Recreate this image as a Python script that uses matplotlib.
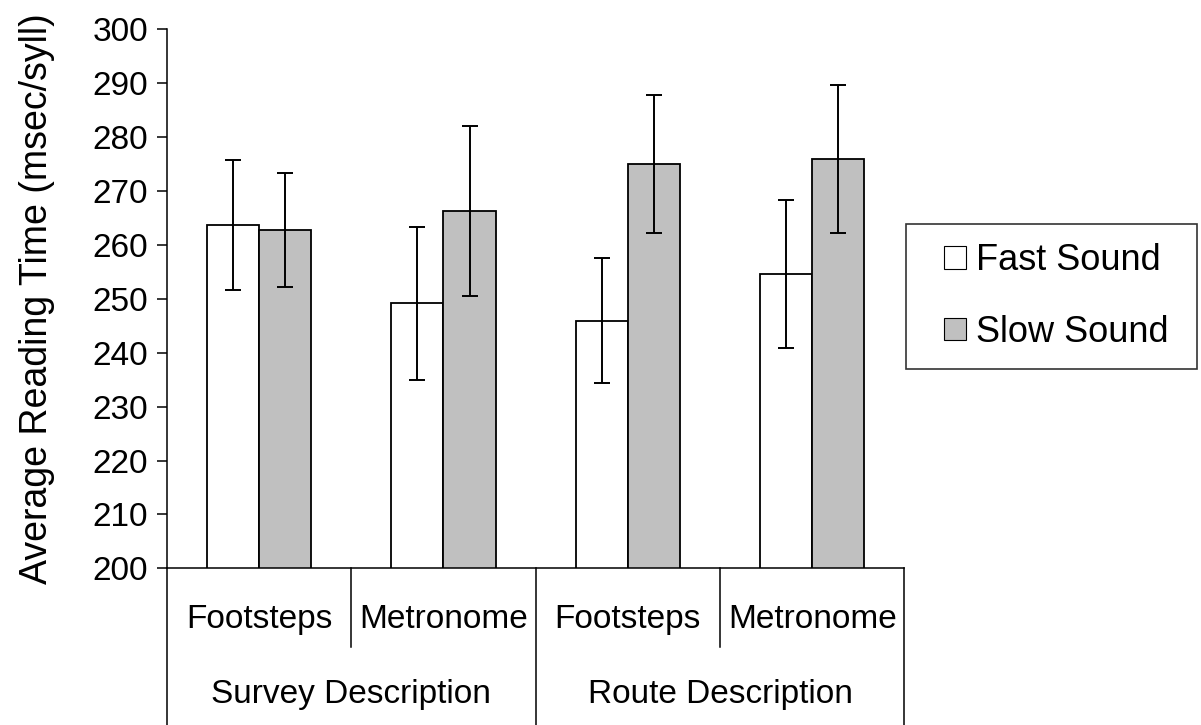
import numpy as np
import matplotlib
matplotlib.use("Agg")
import matplotlib.pyplot as plt
from matplotlib.patches import Patch, Rectangle
from matplotlib.legend_handler import HandlerPatch
import matplotlib.transforms as mtransforms

plt.rcParams.update({
    "font.family": ["Liberation Sans", "DejaVu Sans"],
    "font.size": 24,
})

# ---------------------------------------------------------------------------
# Data
# ---------------------------------------------------------------------------
sounds = ["Footsteps", "Metronome", "Footsteps", "Metronome"]
descriptions = ["Survey Description", "Route Description"]
fast_mean = [263.6, 249.1, 245.9, 254.6]
fast_err = [12.0, 14.1, 11.6, 13.7]
slow_mean = [262.7, 266.2, 274.9, 275.8]
slow_err = [10.5, 15.8, 12.8, 13.7]
series_names = ["Fast Sound", "Slow Sound"]
yticks = np.arange(200, 301, 10)

CLR_FAST = "white"
CLR_SLOW = "#C0C0C0"

fig = plt.figure(figsize=(12.01, 7.25), dpi=100)
ax = fig.add_axes([0.139, 0.2159, 0.614, 0.7445])

x = np.arange(len(sounds))
w = 0.283
err_kw = dict(ecolor="black", elinewidth=1.4, capsize=5.5, capthick=1.4)
ax.bar(x - w / 2, fast_mean, w, yerr=fast_err, color=CLR_FAST,
       edgecolor="black", linewidth=1.3, error_kw=err_kw, zorder=2)
ax.bar(x + w / 2, slow_mean, w, yerr=slow_err, color=CLR_SLOW,
       edgecolor="black", linewidth=1.3, error_kw=err_kw, zorder=2)

ax.set_xlim(-0.5, len(sounds) - 0.5)
ax.set_ylim(yticks[0], yticks[-1])
ax.set_yticks(yticks)
ax.tick_params(axis="y", direction="out", length=7.5, width=1.1, labelsize=24, pad=6)
ax.set_xticks([])
ax.spines["top"].set_visible(False)
ax.spines["right"].set_visible(False)
ax.spines["left"].set_linewidth(1.1)
ax.spines["bottom"].set_linewidth(1.1)
ax.set_ylabel("Average Reading Time (msec/syll)", fontsize=27, labelpad=27)

# multi-level category axis below the plot
trans = mtransforms.blended_transform_factory(ax.transData, ax.transAxes)
for b in np.arange(-0.5, len(sounds), 1.0):
    full = int(round(b + 0.5)) % 2 == 0
    ybot = -0.29 if full else -0.145
    ax.plot([b, b], [0, ybot], color="black", lw=1.1, transform=trans, clip_on=False)
for xi, lab in zip(x, sounds):
    ax.text(xi, -0.095, lab, transform=trans, ha="center", va="center", fontsize=24)
for gi, lab in enumerate(descriptions):
    ax.text(2 * gi + 0.5, -0.234, lab, transform=trans, ha="center", va="center", fontsize=24)


# small square legend keys, pushed to the right side of the handle area
def square_key(legend, orig_handle, xdescent, ydescent, width, height, fontsize):
    s = height
    return Rectangle((width - s - xdescent, -ydescent), s, s)


handles = [Patch(facecolor=CLR_FAST, edgecolor="black", linewidth=0.8),
           Patch(facecolor=CLR_SLOW, edgecolor="black", linewidth=0.8)]
leg = fig.legend(handles, series_names, loc="center left", mode="expand",
                 bbox_to_anchor=(906 / 1201, 1 - 296.5 / 725, 291 / 1201, 0),
                 fontsize=26, frameon=True, fancybox=False, edgecolor="black",
                 handler_map={Patch: HandlerPatch(patch_func=square_key)},
                 handlelength=1.14, handleheight=0.58, handletextpad=0.28,
                 labelspacing=1.0, borderpad=0.53, borderaxespad=0)
leg.get_frame().set_linewidth(1.2)

fig.savefig("out.png", dpi=100)
